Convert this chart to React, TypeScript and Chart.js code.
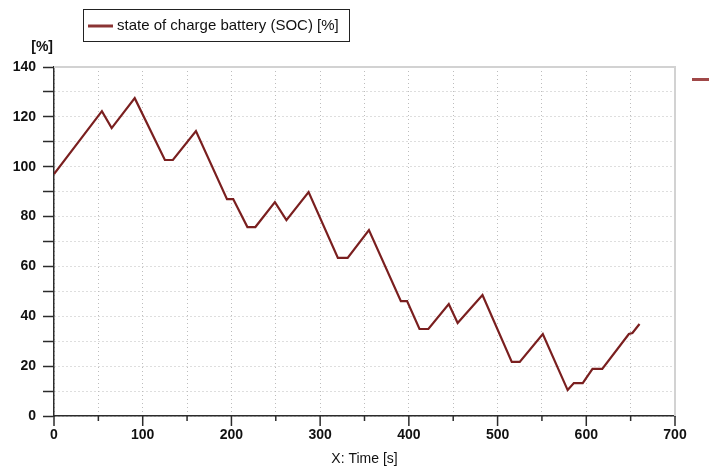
import { useEffect, useRef } from "react";
import { Chart, registerables } from "chart.js";

Chart.register(...registerables);

// Battery state of charge over time
const timeS = [0, 54, 65, 91, 125, 134, 160, 195, 202, 218, 227, 249, 262, 287, 320, 331, 355, 391, 398, 412, 422, 445, 455, 483, 516, 525, 551, 579, 586, 596, 607, 618, 648, 652, 660];
const socPct = [97, 122.3, 115.5, 127.5, 102.7, 102.7, 114.3, 87, 87, 75.8, 75.8, 85.8, 78.6, 89.8, 63.4, 63.4, 74.6, 46.1, 46.1, 34.9, 34.9, 44.9, 37.3, 48.5, 21.7, 21.7, 32.9, 10.4, 13.2, 13.2, 18.9, 18.9, 32.9, 33.3, 36.9];

const seriesLabel = "state of charge battery (SOC) [%]";
const xTickLabels = [0, 100, 200, 300, 400, 500, 600, 700];
const xMinorTicks = [50, 150, 250, 350, 450, 550, 650];
const yTickLabels = [0, 20, 40, 60, 80, 100, 120, 140];
const xTitle = "X: Time [s]";
const yUnit = "[%]";

const LINE_COLOR = "#7a1f1f";
const AXIS_COLOR = "#2b2b2b";
const GRID_COLOR = "#bdbdbd";
const TEXT_COLOR = "#111111";

const decorPlugin = {
  id: "decor",
  beforeDatasetsDraw(chart: any) {
    const { ctx, chartArea, scales } = chart;
    const x = scales.x;
    ctx.save();
    // light frame on top and right
    ctx.strokeStyle = "#d2d2d2";
    ctx.lineWidth = 2;
    ctx.beginPath();
    ctx.moveTo(chartArea.left, chartArea.top);
    ctx.lineTo(chartArea.right, chartArea.top);
    ctx.lineTo(chartArea.right, chartArea.bottom);
    ctx.stroke();
    // time axis ticks: long at labelled values, short in between
    ctx.strokeStyle = AXIS_COLOR;
    ctx.lineWidth = 1.5;
    const drawTick = (v: number, len: number) => {
      const px = x.getPixelForValue(v);
      ctx.beginPath();
      ctx.moveTo(px, chartArea.bottom);
      ctx.lineTo(px, chartArea.bottom + len);
      ctx.stroke();
    };
    xTickLabels.forEach((v) => drawTick(v, 10));
    xMinorTicks.forEach((v) => drawTick(v, 5));
    ctx.restore();
  },
  afterDraw(chart: any) {
    const { ctx, chartArea } = chart;
    ctx.save();
    // legend box
    ctx.strokeStyle = "#222";
    ctx.lineWidth = 1;
    ctx.strokeRect(83.5, 9.5, 266, 32);
    ctx.strokeStyle = "#8a3434";
    ctx.lineWidth = 3;
    ctx.beginPath();
    ctx.moveTo(88, 26);
    ctx.lineTo(113, 26);
    ctx.stroke();
    ctx.fillStyle = TEXT_COLOR;
    ctx.font = "15px 'Liberation Sans', Arial, sans-serif";
    ctx.textAlign = "left";
    ctx.textBaseline = "middle";
    ctx.fillText(seriesLabel, 117, 26);

    // unit label above the value axis
    ctx.font = "bold 14px 'Liberation Sans', Arial, sans-serif";
    ctx.textAlign = "right";
    ctx.fillText(yUnit, 53, 47);

    // time axis title
    ctx.font = "14px 'Liberation Sans', Arial, sans-serif";
    ctx.textAlign = "center";
    ctx.fillText(xTitle, (chartArea.left + chartArea.right) / 2, 459);

    // clipped legend marker at the right edge
    ctx.strokeStyle = "#a04848";
    ctx.lineWidth = 3;
    ctx.beginPath();
    ctx.moveTo(692, 79.5);
    ctx.lineTo(712, 79.5);
    ctx.stroke();
    ctx.restore();
  },
};

export default function App() {
  const canvasRef = useRef<HTMLCanvasElement | null>(null);

  useEffect(() => {
    const canvas = canvasRef.current;
    if (!canvas) return;
    const points = timeS.map((t, i) => ({ x: t, y: socPct[i] }));
    const chart = new Chart(canvas, {
      type: "scatter",
      data: {
        datasets: [
          {
            label: seriesLabel,
            data: points,
            showLine: true,
            borderColor: LINE_COLOR,
            backgroundColor: LINE_COLOR,
            borderWidth: 2.2,
            pointRadius: 0,
            tension: 0,
          },
        ],
      },
      options: {
        animation: false,
        responsive: false,
        layout: { padding: { left: 0, top: 67, right: 34, bottom: 0 } },
        plugins: {
          legend: { display: false },
          tooltip: { enabled: false },
        },
        scales: {
          x: {
            type: "linear",
            min: 0,
            max: 700,
            afterFit: (s: any) => {
              s.height = 54;
            },
            ticks: {
              stepSize: 50,
              autoSkip: false,
              maxRotation: 0,
              padding: 1,
              color: TEXT_COLOR,
              font: { family: "'Liberation Sans', Arial, sans-serif", size: 14, weight: "bold" },
              callback: (v: any) => (xTickLabels.includes(Number(v)) ? String(v) : ""),
            },
            grid: {
              color: GRID_COLOR,
              lineWidth: 1,
              tickLength: 10,
              tickColor: "rgba(0,0,0,0)",
            },
            border: { display: true, color: AXIS_COLOR, width: 1.5, dash: [1, 3] },
          },
          y: {
            type: "linear",
            min: 0,
            max: 140,
            afterFit: (s: any) => {
              s.width = 54;
            },
            ticks: {
              stepSize: 10,
              autoSkip: false,
              padding: 7,
              color: TEXT_COLOR,
              font: { family: "'Liberation Sans', Arial, sans-serif", size: 14, weight: "bold" },
              callback: (v: any) => (yTickLabels.includes(Number(v)) ? String(v) : ""),
            },
            grid: {
              color: GRID_COLOR,
              lineWidth: 1,
              tickLength: 11,
              tickWidth: 1.5,
              tickColor: AXIS_COLOR,
            },
            border: { display: true, color: AXIS_COLOR, width: 1.5, dash: [1, 3] },
          },
        },
      },
      plugins: [decorPlugin],
    } as any);
    return () => chart.destroy();
  }, []);

  return (
    <div style={{ position: "fixed", left: 0, top: 0, width: 709, height: 470, background: "#fff" }}>
      <canvas ref={canvasRef} width={709} height={470} style={{ display: "block" }} />
    </div>
  );
}
